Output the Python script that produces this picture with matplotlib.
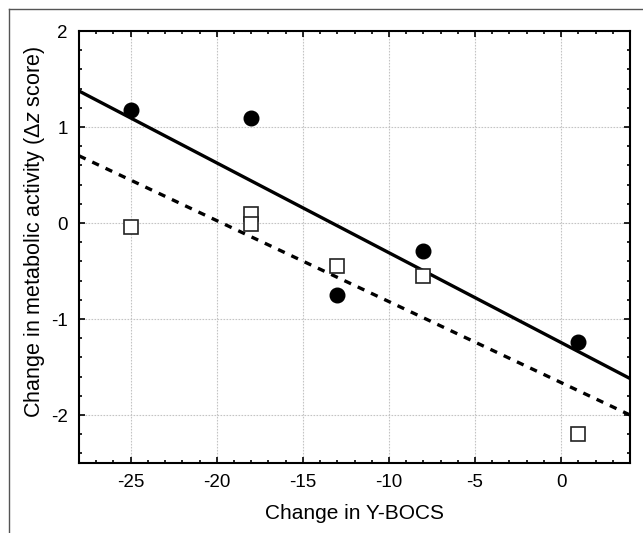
import matplotlib
matplotlib.use("Agg")
import matplotlib.pyplot as plt
from matplotlib.ticker import MultipleLocator
from matplotlib.lines import Line2D

plt.rcParams['font.family'] = ['Liberation Sans', 'DejaVu Sans']
plt.rcParams['mathtext.fontset'] = 'custom'
plt.rcParams['mathtext.rm'] = 'Liberation Sans'
plt.rcParams['mathtext.it'] = 'Liberation Sans:italic'
plt.rcParams['axes.unicode_minus'] = False

# Data
circle_x = [-25, -18, -13, -8, 1]
circle_y = [1.18, 1.09, -0.75, -0.29, -1.24]
square_x = [-25, -18, -18, -13, -8, 1]
square_y = [-0.04, 0.09, -0.01, -0.45, -0.55, -2.20]
line_x = [-28, 4]
solid_y = [1.375, -1.62]
dashed_y = [0.70, -2.00]
x_ticks = [-25, -20, -15, -10, -5, 0]
y_ticks = [-2, -1, 0, 1, 2]

fig = plt.figure(figsize=(6.43, 5.33), dpi=100)
ax = fig.add_axes([79/643, 1-463/533, (630-79)/643, (463-31)/533])

ax.grid(True, which='major', color='#c4c4c4', linestyle=(0, (1.5, 1.2)), linewidth=0.8)
ax.set_axisbelow(True)

ax.plot(line_x, solid_y, color='black', linewidth=2.4, solid_capstyle='butt', zorder=3)
ax.plot(line_x, dashed_y, color='black', linewidth=2.4, linestyle=(0, (2.2, 2.2)), zorder=3)
ax.plot(circle_x, circle_y, 'o', color='black', markersize=10.5, zorder=4)
ax.plot(square_x, square_y, 's', markerfacecolor='white', markeredgecolor='#222222',
        markeredgewidth=1.2, markersize=9.5, linestyle='none', zorder=5)

ax.set_xlim(-28, 4)
ax.set_ylim(-2.5, 2)
ax.set_xticks(x_ticks)
ax.set_yticks(y_ticks)
ax.xaxis.set_minor_locator(MultipleLocator(1))
ax.yaxis.set_minor_locator(MultipleLocator(0.2))
ax.tick_params(which='both', direction='in', top=True, right=True, labelsize=13.5, colors='black')
ax.tick_params(which='major', length=4, width=1.2, pad=8)
ax.tick_params(which='minor', length=2.5, width=1.2)
for s in ax.spines.values():
    s.set_linewidth(1.5)

ax.set_xlabel('Change in Y-BOCS', fontsize=15, labelpad=9)
ax.set_ylabel(r'Change in metabolic activity ($\Delta\it{z}$ score)', fontsize=15.5)
ax.yaxis.set_label_coords(-0.058, 0.535)

# partial outer frame
fig.add_artist(Line2D([9/643, 1], [1-9/533, 1-9/533], color='#555555', linewidth=1.0, transform=fig.transFigure))
fig.add_artist(Line2D([9/643, 9/643], [0, 1-9/533], color='#555555', linewidth=1.0, transform=fig.transFigure))

fig.savefig('out.png', dpi=100)
